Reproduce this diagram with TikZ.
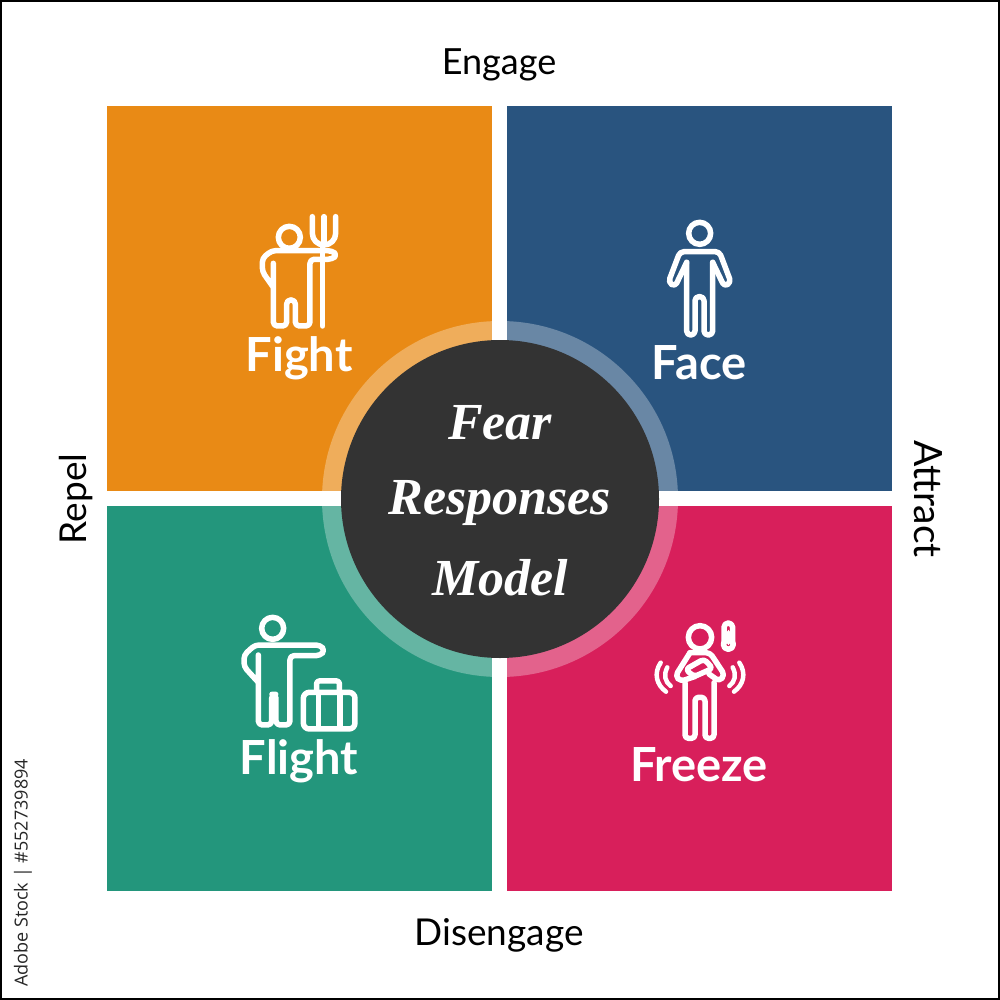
\documentclass[tikz,border=0pt]{standalone}
\usepackage{fontspec}
\setmainfont{Lato}
\newfontfamily\titlefont[BoldItalicFont={Liberation Serif Bold Italic}]{Liberation Serif}
\newfontfamily\sidefont{Open Sans}
\definecolor{cOrange}{HTML}{E98A15}
\definecolor{cBlue}{HTML}{29547F}
\definecolor{cTeal}{HTML}{23967C}
\definecolor{cRed}{HTML}{D81F5B}
\definecolor{cDark}{HTML}{333333}
\tikzset{
  quad/.style={draw=none,minimum width=385pt,minimum height=385pt,inner sep=0pt,anchor=north west},
  axis/.style={font=\fontsize{37}{37}\selectfont,text=black,inner sep=0pt},
  lab/.style={font=\fontsize{47}{47}\selectfont\bfseries,text=white,inner sep=0pt},
  ttl/.style={font=\fontsize{52}{52}\selectfont\titlefont\bfseries\itshape,text=white,inner sep=0pt},
  icon/.style={draw=white,line width=5.5pt,line cap=round,line join=round,fill=none},
  zoomed/.style={x=0.3333pt,y=-0.3333pt}
}
\begin{document}
\begin{tikzpicture}[x=1pt,y=-1pt]
\useasboundingbox (0,0) rectangle (1000,1000);
\fill[white] (0,0) rectangle (1000,1000);
\draw[black,line width=2pt] (1,1) rectangle (999,999);
\node[quad,fill=cOrange] (qa) at (107,106) {};
\node[quad,fill=cBlue]   (qb) at (507,106) {};
\node[quad,fill=cTeal]   (qc) at (107,506) {};
\node[quad,fill=cRed]    (qd) at (507,506) {};
\fill[white,opacity=0.3] (500,499) circle (178);
\fill[white] (492,320) rectangle (507,340);
\fill[white] (492,658) rectangle (507,678);
\fill[white] (321,491) rectangle (341,506);
\fill[white] (659,491) rectangle (679,506);
\node[circle,fill=cDark,minimum size=318pt,inner sep=0pt] (hub) at (500,499) {};
\node[ttl] (t1) at (500,423) {Fear};
\node[ttl] (t2) at (500,503) {Responses};
\node[ttl] (t3) at (500,578) {Model};
\node[axis,font=\fontsize{36}{36}\selectfont] (engage) at (499,65) {Engage};
\node[axis] (dis) at (499,935) {Disengage};
\node[axis,rotate=90] (repel) at (76,499) {Repel};
\node[axis,rotate=-90,font=\fontsize{39}{39}\selectfont] (attract) at (928,499) {Attract};
\node[lab] (fight) at (299,358) {Fight};
\node[lab] (face) at (699,363) {Face};
\node[lab] (flight) at (299,761) {Flight};
\node[lab] (freeze) at (699,765) {Freeze};
\node[rotate=90,font=\fontsize{18}{18}\selectfont\sidefont,text=black!85,inner sep=0pt] (stock) at (23,873) {Adobe Stock | \#552739894};
% Fight icon
\begin{scope}[shift={(230,200)},zoomed]
\draw[icon] (178,112) circle (33);
\draw[icon] (247,50) -- (247,100) arc[start angle=180,end angle=0,radius=35] -- (317,50);
\draw[icon] (282,50) -- (282,135);
\draw[icon] (278,135) -- (278,378);
\draw[icon,rounded corners=4pt] (130,262) -- (97,215) -- (97,175) -- (125,152) -- (305,152) -- (322,165) -- (305,178) -- (240,178) -- (240,378) -- (196,378) -- (196,300) -- (170,300) -- (170,378) -- (130,378) -- (130,190);
\end{scope}
% Face icon
\begin{scope}[shift={(640,205)},zoomed]
\draw[icon] (179,85) circle (33);
\draw[icon,rounded corners=4pt] (140,172) -- (140,390) -- (165,390) -- (165,275) -- (192,275) -- (192,390) -- (218,390) -- (218,172);
\draw[icon,rounded corners=4pt] (140,172) -- (105,245) -- (85,232) -- (120,140) -- (238,140) -- (273,232) -- (253,245) -- (218,172);
\end{scope}
% Flight icon
\begin{scope}[shift={(230,605)},zoomed]
\draw[icon] (128,70) circle (33);
\draw[icon,rounded corners=4pt] (85,232) -- (42,185) -- (42,150) -- (75,120) -- (270,120) -- (285,136) -- (270,152) -- (180,152) -- (180,360) -- (138,360) -- (138,268) -- (125,268) -- (125,360) -- (85,360) -- (85,150);
\draw[icon,rounded corners=6pt] (220,262) rectangle (375,372);
\draw[icon,rounded corners=2.5pt] (260,262) -- (260,228) -- (328,228) -- (328,262);
\draw[icon] (265,272) -- (265,362);
\draw[icon] (330,272) -- (330,362);
\end{scope}
% Freeze icon
\begin{scope}[shift={(640,610)},zoomed]
\draw[icon] (180,82) circle (35);
\draw[icon] (252,100) -- (252,52) arc[start angle=180,end angle=360,radius=13] -- (278,100);
\draw[icon] (265,103) circle (15);
\draw[icon,line width=3.5pt] (265,65) -- (265,100);
\draw[icon,rounded corners=3.5pt] (135,218) -- (135,385) -- (165,385) -- (165,262) -- (195,262) -- (195,385) -- (222,385) -- (222,218);
\draw[icon,rounded corners=4pt] (150,128) -- (106,198) -- (122,214) -- (166,199);
\draw[icon,rounded corners=4pt] (150,128) -- (210,128) -- (254,195) -- (238,214) -- (207,192);
\draw[icon,rounded corners=3.5pt] (137,178) -- (192,147) -- (218,175) -- (162,200) -- cycle;
\draw[icon,line width=4.5pt] (62,158) .. controls (40,190) and (50,225) .. (78,245);
\draw[icon,line width=4.5pt] (82,172) .. controls (70,195) and (75,215) .. (92,228);
\draw[icon,line width=4.5pt] (298,158) .. controls (320,190) and (310,225) .. (282,245);
\draw[icon,line width=4.5pt] (278,172) .. controls (290,195) and (285,215) .. (268,228);
\end{scope}
\end{tikzpicture}
\end{document}
